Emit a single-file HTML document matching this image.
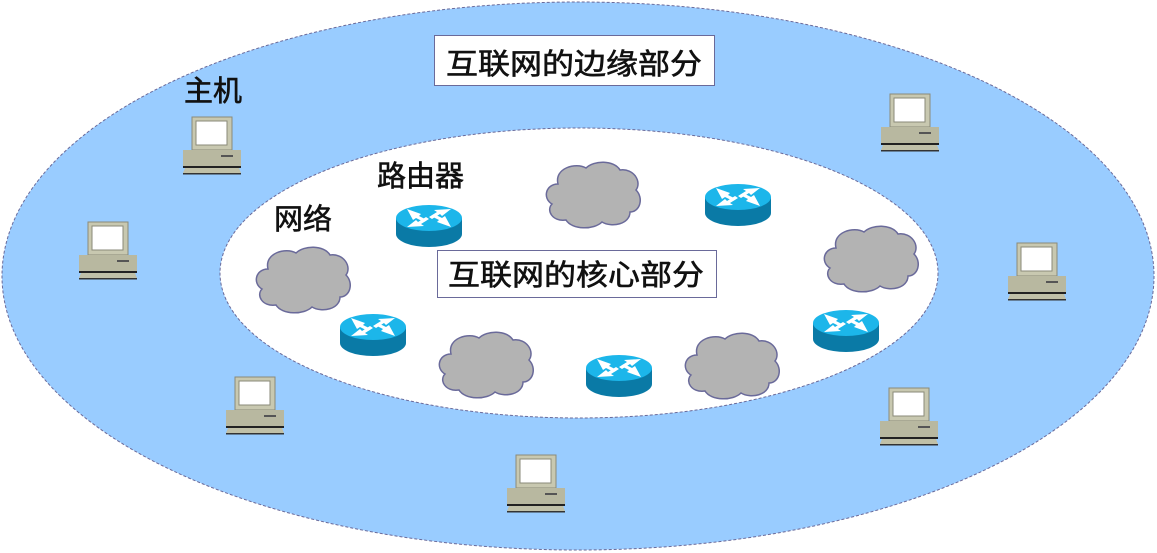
<!DOCTYPE html>
<html><head><meta charset="utf-8"><style>
html,body{margin:0;padding:0;background:#fff;}
svg{display:block;}
.t{font-family:"Liberation Sans","Noto Sans CJK SC",sans-serif;font-size:29px;fill:#111;stroke:#111;stroke-width:0.6;}
</style></head><body>
<svg width="1157" height="553" viewBox="0 0 1157 553" xmlns="http://www.w3.org/2000/svg">
<defs>
<g id="pc">
  <rect x="9" y="1" width="40" height="33" fill="#c8c8b0" stroke="#8a8a78" stroke-width="1"/>
  <rect x="13" y="5" width="31" height="24" fill="#fff" stroke="#8a8a78" stroke-width="1"/>
  <rect x="0" y="34" width="58" height="17" fill="#b8b8a0"/>
  <rect x="38" y="39" width="12" height="2" fill="#555"/>
  <rect x="0" y="50" width="58" height="2" fill="#222"/>
  <polygon points="2,52 56,52 58,57 0,57" fill="#c0c0a8"/>
  <rect x="0" y="57" width="58" height="1.5" fill="#333"/>
</g>
<g id="rt">
  <path d="M-33,0 L-33,16 A33,13 0 0 0 33,16 L33,0 Z" fill="#0a7aa6"/>
  <ellipse cx="0" cy="0" rx="33" ry="13" fill="#1cb6ea"/>
  <g fill="#fff">
    <polygon points="-22,-9 -8,-4 -10,-2 -2,2 -5,4 -13,0 -16,2"/>
    <polygon points="22,-9 5,-8 8,-6 0,-1 3,1 11,-4 13,-2"/>
    <polygon points="-22,9 -5,8 -8,6 0,1 -3,-1 -11,4 -13,2"/>
    <polygon points="22,9 8,4 10,2 2,-2 5,-4 13,0 16,-2"/>
  </g>
</g>
<path id="cl" d="M-36,-12 C-40,-28 -18,-34 -8,-28 C0,-36 20,-36 26,-26 C40,-28 48,-14 42,-6 C50,2 46,16 36,16 C36,28 18,32 8,26 C0,34 -22,34 -28,24 C-42,26 -48,14 -42,8 C-52,2 -48,-12 -36,-12 Z" fill="#b3b3b3" stroke="#6a6a9a" stroke-width="1.5"/>
</defs>
<ellipse cx="578" cy="276" rx="576" ry="274" fill="#99ccff" stroke="#6a6a9a" stroke-width="1" stroke-dasharray="3,2"/>
<ellipse cx="579" cy="273" rx="359" ry="145" fill="#fff" stroke="#6a6a9a" stroke-width="1" stroke-dasharray="3,2"/>
<rect x="434.5" y="35.5" width="280" height="50" fill="#fff" stroke="#6a6a9a"/>
<text class="t" x="446" y="74" textLength="256" lengthAdjust="spacingAndGlyphs">互联网的边缘部分</text>
<rect x="437.5" y="250.5" width="279" height="47" fill="#fff" stroke="#6a6a9a"/>
<text class="t" x="448" y="285" textLength="256" lengthAdjust="spacingAndGlyphs">互联网的核心部分</text>
<text class="t" x="184" y="101">主机</text>
<text class="t" x="377" y="186">路由器</text>
<text class="t" x="274" y="229">网络</text>
<use href="#pc" x="183" y="116"/>
<use href="#pc" x="79" y="221"/>
<use href="#pc" x="226" y="376"/>
<use href="#pc" x="881" y="93"/>
<use href="#pc" x="1008" y="242"/>
<use href="#pc" x="880" y="387"/>
<use href="#pc" x="507" y="454"/>
<use href="#cl" x="304" y="281"/>
<use href="#cl" x="594" y="196"/>
<use href="#cl" x="872" y="260"/>
<use href="#cl" x="487" y="366"/>
<use href="#cl" x="733" y="367"/>
<use href="#rt" x="429" y="218"/>
<use href="#rt" x="738" y="197"/>
<use href="#rt" x="373" y="327"/>
<use href="#rt" x="619" y="368"/>
<use href="#rt" x="846" y="323"/>
</svg>
</body></html>
